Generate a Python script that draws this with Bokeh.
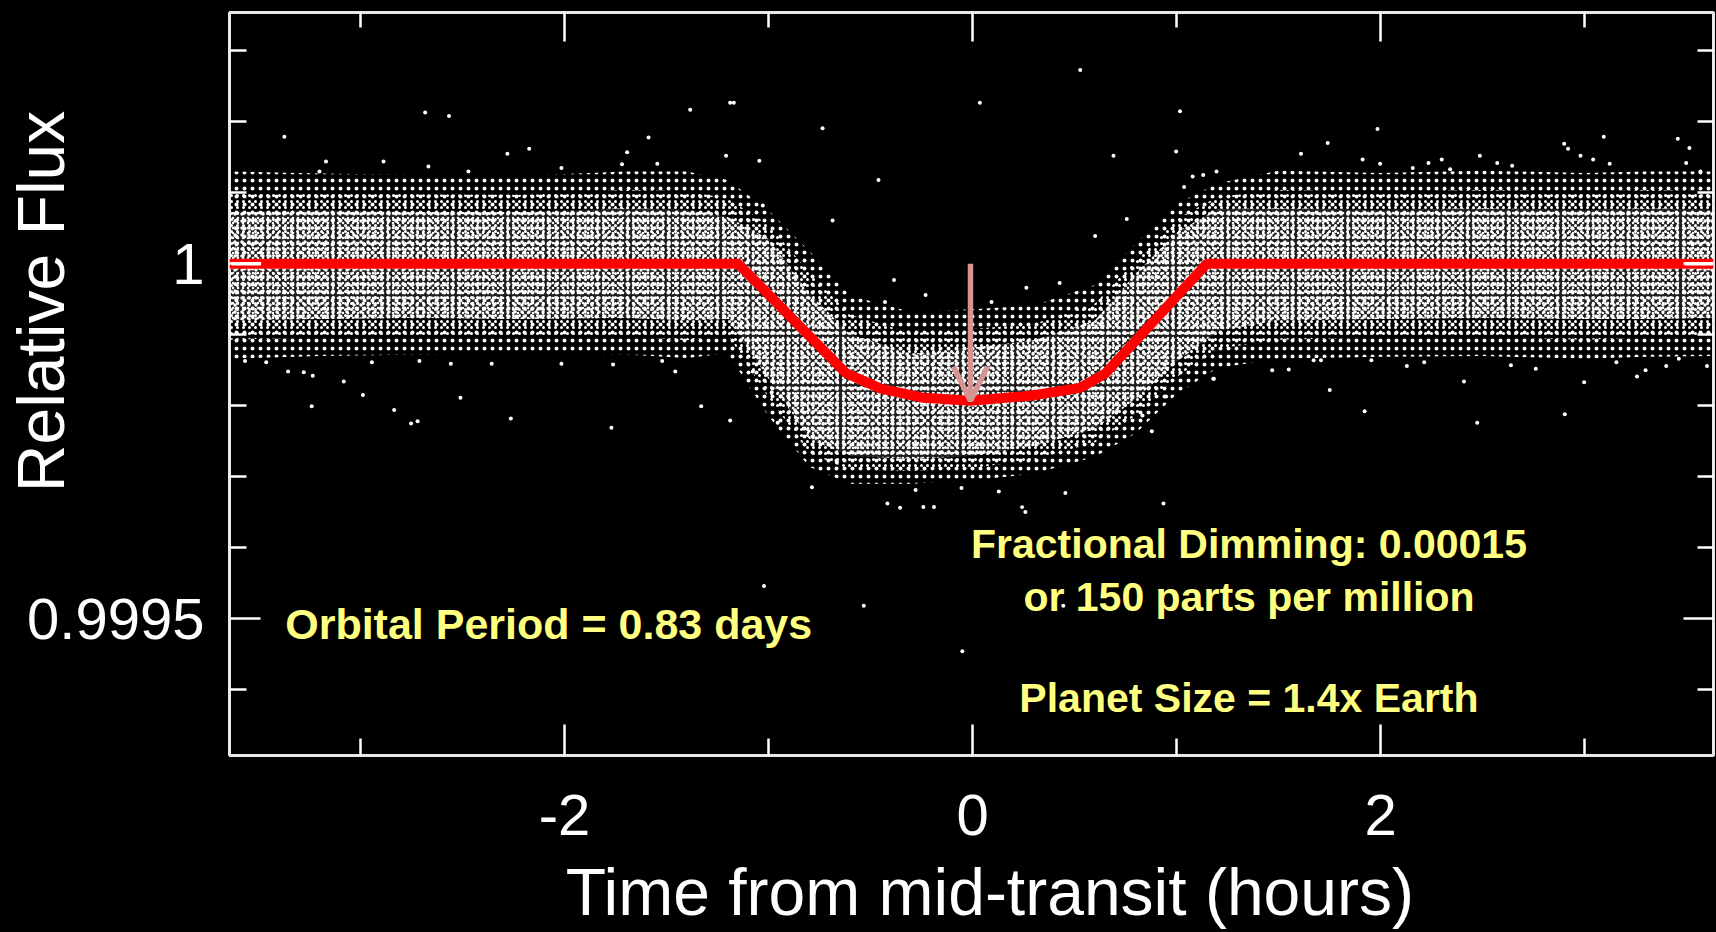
import numpy as np
from jinja2 import Template
from bokeh.plotting import figure
from bokeh.models import (FixedTicker, LinearAxis, Label, Arrow, OpenHead, Range1d)
from bokeh.embed import file_html
from bokeh.resources import INLINE

# ---------------- data ----------------
x_major_ticks = [-2, 0, 2]
x_minor_ticks = [-3, -1, 1, 3]
x_tick_labels = {-2: "-2", 0: "0", 2: "2"}
y_major_ticks = [0.9995, 1.0]
y_minor_ticks = [0.9994, 0.9996, 0.9997, 0.9998, 0.9999, 1.0001, 1.0002, 1.0003]
y_tick_labels = {0.9995: "0.9995", 1.0: "1"}

# transit model (red curve)
model_time = [-3.642, -1.149, -0.621, -0.45, -0.24, -0.01, 0.284, 0.528, 0.650, 1.149, 3.632]
model_flux = [1.0, 1.0, 0.999846, 0.999824, 0.999811, 0.999807, 0.999814, 0.999825, 0.999845, 1.0, 1.0]

# envelope of the point cloud: outer = sparse extent, mid = moderately dense, core = dense
band_time = [-3.642, -3.2, -2.7, -2.2, -1.7, -1.4, -1.2, -1.0, -0.8, -0.6, -0.3, 0.0,
             0.3, 0.6, 0.8, 1.0, 1.2, 1.5, 2.0, 2.5, 3.0, 3.3, 3.632]
outer_hi = [1.000130, 1.000127, 1.000125, 1.000124, 1.000130, 1.000130, 1.000118, 1.000075,
            1.000018, 0.999955, 0.999932, 0.999936, 0.999941, 0.999970, 1.000028, 1.000084,
            1.000113, 1.000131, 1.000128, 1.000131, 1.000128, 1.000130, 1.000130]
outer_lo = [0.999866, 0.999870, 0.999872, 0.999874, 0.999872, 0.999867, 0.999874, 0.999785,
            0.999714, 0.999690, 0.999690, 0.999695, 0.999704, 0.999728, 0.999761, 0.999816,
            0.999853, 0.999866, 0.999869, 0.999870, 0.999866, 0.999869, 0.999870]
mid_hi = [1.000100, 1.000102, 1.000098, 1.000097, 1.000104, 1.000102, 1.000092, 1.000055,
          0.999988, 0.999928, 0.999902, 0.999908, 0.999915, 0.999944, 1.000005, 1.000063,
          1.000094, 1.000104, 1.000101, 1.000104, 1.000101, 1.000104, 1.000102]
mid_lo = [0.999893, 0.999896, 0.999898, 0.999897, 0.999898, 0.999892, 0.999900, 0.999812,
          0.999733, 0.999710, 0.999708, 0.999712, 0.999724, 0.999748, 0.999786, 0.999840,
          0.999880, 0.999893, 0.999896, 0.999897, 0.999893, 0.999896, 0.999897]
core_hi = [1.000073, 1.000076, 1.000073, 1.000073, 1.000078, 1.000076, 1.000066, 1.000035,
           0.999958, 0.999901, 0.999873, 0.999882, 0.999892, 0.999920, 0.999986, 1.000044,
           1.000077, 1.000078, 1.000076, 1.000078, 1.000076, 1.000078, 1.000076]
core_lo = [0.999920, 0.999922, 0.999924, 0.999922, 0.999924, 0.999920, 0.999922, 0.999838,
           0.999753, 0.999729, 0.999725, 0.999729, 0.999743, 0.999767, 0.999809, 0.999862,
           0.999905, 0.999920, 0.999922, 0.999924, 0.999922, 0.999922, 0.999924]

# individual isolated measurements outside the dense cloud
outlier_time = [-2.683, -2.566, -3.373, -1.384, -1.188, -1.588, -2.173, -2.280, -1.693, -1.208,
                -3.169, -2.887, -2.667, -1.718, -1.545, -2.015, -2.471, -3.201, -3.566, -3.462,
                -3.355, -3.278, -3.234, -3.082, -2.988, -3.239, -2.835, -2.752, -2.720, -2.510,
                -2.263, -1.770, -1.330, -1.188, -2.711, -2.557, -2.357, -2.015, -1.762, -1.521,
                -1.457, -2.944, -1.170, 0.036, -0.735, -1.045, -0.461, -0.686, 1.017, 0.691,
                0.998, 0.756, 0.601, -0.385, 0.427, 0.264, -0.230, -0.429, 0.093, 1.079,
                1.131, 1.037, -1.028, -0.787, -0.417, -0.355, -0.241, -0.189, 0.243, 0.259,
                0.936, 0.455, -0.054, 0.129, -0.279, -0.665, -0.955, 0.879, 0.833, 0.949,
                1.180, -1.077, -0.984, 1.985, 1.741, 1.610, 3.094, 3.457, 3.514, 2.900,
                2.919, 2.487, 2.300, 1.912, 1.998, 2.235, 2.572, 2.645, 2.980, 3.042,
                3.123, 3.498, 3.568, 1.196, 2.158, 2.341, 1.469, 1.550, 1.672, 1.708,
                1.751, 1.922, 2.409, 2.474, 2.639, 2.761, 2.903, 2.998, 3.257, 3.299,
                3.156, 3.400, 3.462, 3.600, 2.129, 2.214, 1.183, 1.955, 0.528, -0.050,
                -1.022, -0.533, 0.445]
outlier_flux = [1.000213, 1.000208, 1.000179, 1.000217, 1.000227, 1.000178, 1.000162, 1.000155, 1.000157, 1.000152,
                1.000144, 1.000144, 1.000137, 1.000140, 1.000141, 1.000135, 1.000130, 1.000130, 0.999863, 0.999861,
                0.999848, 0.999847, 0.999842, 0.999834, 0.999815, 0.999799, 0.999794, 0.999775, 0.999778, 0.999811,
                0.999782, 0.999769, 0.999799, 0.999779, 0.999863, 0.999859, 0.999859, 0.999859, 0.999858, 0.999863,
                0.999848, 0.999861, 1.000227, 1.000227, 1.000191, 1.000145, 1.000118, 1.000061, 1.000215, 1.000152,
                1.000158, 1.000063, 1.000039, 0.999977, 0.999973, 0.999966, 0.999956, 0.999946, 0.999946, 1.000123,
                1.000125, 1.000108, 1.000082, 0.999685, 0.999662, 0.999656, 0.999657, 0.999657, 0.999657, 0.999650,
                0.999662, 0.999677, 0.999684, 0.999679, 0.999681, 0.999720, 0.999776, 0.999764, 0.999786, 0.999813,
                0.999838, 0.999848, 0.999819, 1.000190, 1.000170, 1.000155, 1.000179, 1.000176, 1.000163, 1.000169,
                1.000162, 1.000152, 1.000147, 1.000147, 1.000141, 1.000142, 1.000142, 1.000138, 1.000152, 1.000147,
                1.000141, 1.000142, 1.000130, 1.000130, 1.000135, 1.000133, 0.999850, 0.999851, 0.999864, 0.999864,
                0.999822, 0.999792, 0.999834, 0.999776, 0.999857, 0.999852, 0.999788, 0.999833, 0.999841, 0.999850,
                0.999861, 0.999856, 0.999866, 0.999856, 0.999856, 0.999861, 0.999838, 0.999864, 1.000273, 0.999454,
                0.999546, 0.999518, 0.999518]

# short white model-line ends visible under the red curve
edge_left_time = [-3.632, -3.487]
edge_right_time = [3.490, 3.628]
edge_flux = [1.0, 1.0]

x_title = "Time from mid-transit (hours)"
y_title = "Relative Flux"
notes = ["Orbital Period = 0.83 days", "Fractional Dimming: 0.00015",
         "or 150 parts per million", "Planet Size = 1.4x Earth"]
note_flux = [0.999492, 0.999605, 0.999531, 0.999388]

# ---------------- styles ----------------
FONT = "Liberation Sans"
YELLOW = "#ffff80"
ARROW = "#d69595"
NBSP = "\u00a0"

p = figure(width=1716, height=932,
           x_range=Range1d(-3.642, 3.632), y_range=Range1d(0.999307, 1.000354),
           output_backend="svg", toolbar_location=None,
           background_fill_color="black", border_fill_color="black",
           min_border_left=229, min_border_right=3, min_border_top=12, min_border_bottom=177,
           x_axis_location=None, y_axis_location=None)
p.grid.visible = False
p.outline_line_color = "#e8e8e8"
p.outline_line_width = 3

xt = FixedTicker(ticks=x_major_ticks, minor_ticks=x_minor_ticks)
yt = FixedTicker(ticks=y_major_ticks, minor_ticks=y_minor_ticks)


def style_axis(ax, major, minor, labels, size=None, standoff=0):
    ax.axis_line_color = None
    ax.major_tick_in = major
    ax.major_tick_out = 0
    ax.minor_tick_in = minor
    ax.minor_tick_out = 0
    ax.major_tick_line_color = "white"
    ax.minor_tick_line_color = "white"
    ax.major_tick_line_width = 2.5
    ax.minor_tick_line_width = 2.5
    ax.major_label_standoff = standoff
    if labels:
        ax.major_label_text_font = FONT
        ax.major_label_text_font_size = size
        ax.major_label_text_color = "white"
        ax.axis_label_text_font = FONT
        ax.axis_label_text_font_style = "normal"
        ax.axis_label_text_color = "white"
    else:
        ax.major_label_text_font_size = "0px"
        ax.major_label_text_color = None


left = LinearAxis(ticker=yt, major_label_overrides=y_tick_labels,
                  axis_label=NBSP * 9 + y_title)
style_axis(left, 31, 17, True, "58px", 25)
left.axis_label_text_font_size = "66px"
left.axis_label_standoff = -54
p.add_layout(left, "left")

right = LinearAxis(ticker=yt)
style_axis(right, 30, 16, False)
p.add_layout(right, "right")

below = LinearAxis(ticker=xt, major_label_overrides=x_tick_labels,
                   axis_label=NBSP * 2 + x_title)
style_axis(below, 31, 17, True, "58px", 39)
below.axis_label_text_font_size = "66px"
below.axis_label_standoff = 17
p.add_layout(below, "below")

above = LinearAxis(ticker=xt)
style_axis(above, 29, 15, False)
p.add_layout(above, "above")

# point cloud rendered as speckle texture: sparse outer, moderately dense mid, dense core
p.varea(x=band_time, y1=outer_lo, y2=outer_hi, fill_alpha=0,
        hatch_pattern="dot", hatch_color="white", hatch_scale=8, hatch_weight=2.5)
p.varea(x=band_time, y1=mid_lo, y2=mid_hi, fill_alpha=0,
        hatch_pattern="dot", hatch_color="white", hatch_scale=6, hatch_weight=2.5)
p.varea(x=band_time, y1=core_lo, y2=core_hi, fill_color="white", fill_alpha=0.12,
        hatch_pattern="dot", hatch_color="white", hatch_scale=5, hatch_weight=3)
p.varea(x=band_time, y1=core_lo, y2=core_hi, fill_alpha=0,
        hatch_pattern="dot", hatch_color="white", hatch_scale=7, hatch_weight=2.5)

p.scatter(outlier_time, outlier_flux, size=4, color="white", line_width=0)

# transit model
p.line(model_time, model_flux, line_color="red", line_width=10, line_join="round")
p.line(edge_left_time, edge_flux, line_color="white", line_width=3.5)
p.line(edge_right_time, edge_flux, line_color="white", line_width=3.5)

# arrow pointing at the transit depth
i_min = int(np.argmin(model_flux))
p.add_layout(Arrow(x_start=model_time[i_min], y_start=model_flux[0],
                   x_end=model_time[i_min], y_end=model_flux[i_min],
                   line_color=ARROW, line_width=5.5,
                   end=OpenHead(size=34, line_color=ARROW, line_width=5.5)))

# annotations
p.add_layout(Label(x=-3.369, y=note_flux[0], text=notes[0], text_align="left",
                   text_baseline="alphabetic", text_font=FONT, text_font_style="bold",
                   text_font_size="43px", text_color=YELLOW))
for txt, yv in zip(notes[1:], note_flux[1:]):
    p.add_layout(Label(x=1.355, y=yv, text=txt, text_align="center",
                       text_baseline="alphabetic", text_font=FONT, text_font_style="bold",
                       text_font_size="41px", text_color=YELLOW))

tmpl = Template("""{% extends base %}
{% block postamble %}<style>html, body { background-color: #000000; }</style>{% endblock %}""")
open("out.html", "w").write(file_html(p, INLINE, title="Transit light curve", template=tmpl))
